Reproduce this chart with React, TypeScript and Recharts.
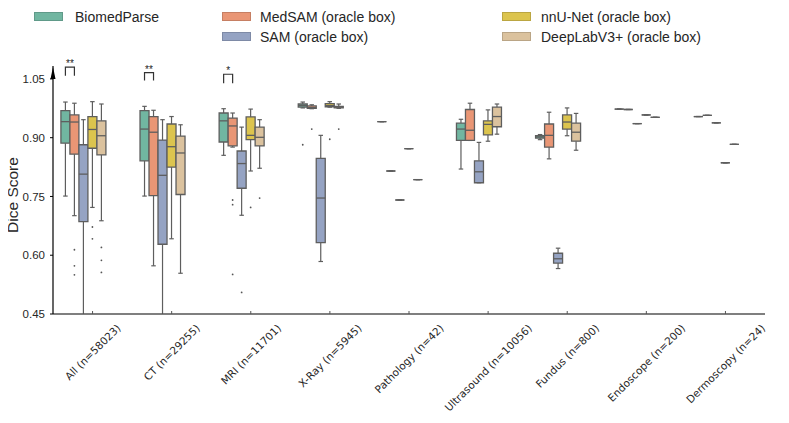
import React from 'react';
import { ComposedChart, Bar, XAxis, YAxis } from 'recharts';

const categories = [
  'All (n=58023)',
  'CT (n=29255)',
  'MRI (n=11701)',
  'X-Ray (n=5945)',
  'Pathology (n=42)',
  'Ultrasound (n=10056)',
  'Fundus (n=800)',
  'Endoscope (n=200)',
  'Dermoscopy (n=24)',
];

const models = [
  'BiomedParse',
  'MedSAM (oracle box)',
  'SAM (oracle box)',
  'nnU-Net (oracle box)',
  'DeepLabV3+ (oracle box)',
];
const colors = ['#71b6a1', '#e99675', '#95a3c3', '#dcc44e', '#dbc29e'];

const yTicks = [0.45, 0.6, 0.75, 0.9, 1.05];
const yDomain: [number, number] = [0.45, 1.083];

// [whiskerLow, q1, median, q3, whiskerHigh] per category
const biomedParseStats = [
  [0.751, 0.886, 0.941, 0.969, 0.991],
  [0.751, 0.841, 0.922, 0.969, 0.98],
  [0.855, 0.889, 0.943, 0.963, 0.974],
  [0.976, 0.978, 0.982, 0.986, 0.991],
  [0.941, 0.941, 0.941, 0.941, 0.941],
  [0.82, 0.893, 0.922, 0.937, 0.947],
  [0.895, 0.899, 0.902, 0.905, 0.908],
  [0.973, 0.973, 0.973, 0.973, 0.973],
  [0.954, 0.954, 0.954, 0.954, 0.954],
];
const medSamStats = [
  [0.701, 0.858, 0.94, 0.958, 0.988],
  [0.573, 0.752, 0.914, 0.954, 0.97],
  [0.876, 0.879, 0.93, 0.95, 0.963],
  [0.974, 0.975, 0.977, 0.981, 0.984],
  [0.815, 0.815, 0.815, 0.815, 0.815],
  [0.893, 0.893, 0.919, 0.972, 0.988],
  [0.846, 0.876, 0.906, 0.935, 0.965],
  [0.972, 0.972, 0.972, 0.972, 0.972],
  [0.957, 0.957, 0.957, 0.957, 0.957],
];
const samStats = [
  [0.3, 0.686, 0.807, 0.882, 0.946],
  [0.2, 0.628, 0.804, 0.894, 0.946],
  [0.702, 0.771, 0.834, 0.866, 0.927],
  [0.584, 0.632, 0.746, 0.847, 0.906],
  [0.741, 0.741, 0.741, 0.741, 0.741],
  [0.785, 0.785, 0.813, 0.841, 0.888],
  [0.566, 0.58, 0.591, 0.605, 0.618],
  [0.936, 0.936, 0.936, 0.936, 0.936],
  [0.938, 0.938, 0.938, 0.938, 0.938],
];
const nnUNetStats = [
  [0.722, 0.873, 0.921, 0.954, 0.992],
  [0.642, 0.825, 0.877, 0.935, 0.954],
  [0.815, 0.895, 0.906, 0.953, 0.973],
  [0.978, 0.979, 0.982, 0.987, 0.992],
  [0.872, 0.872, 0.872, 0.872, 0.872],
  [0.891, 0.907, 0.934, 0.943, 0.971],
  [0.905, 0.922, 0.94, 0.958, 0.976],
  [0.958, 0.958, 0.958, 0.958, 0.958],
  [0.836, 0.836, 0.836, 0.836, 0.836],
];
const deepLabStats = [
  [0.688, 0.856, 0.905, 0.943, 0.986],
  [0.554, 0.755, 0.861, 0.904, 0.933],
  [0.822, 0.879, 0.901, 0.927, 0.946],
  [0.975, 0.976, 0.978, 0.98, 0.986],
  [0.793, 0.793, 0.793, 0.793, 0.793],
  [0.909, 0.928, 0.954, 0.978, 0.986],
  [0.868, 0.891, 0.914, 0.937, 0.962],
  [0.952, 0.952, 0.952, 0.952, 0.952],
  [0.883, 0.883, 0.883, 0.883, 0.883],
];

// outliers per category
const biomedParseFliers = [[], [], [], [0.882], [], [], [], [], []];
const medSamFliers = [[0.614, 0.573, 0.55], [], [0.741, 0.729, 0.551], [0.922], [], [], [], [], []];
const samFliers = [[], [], [0.505], [], [], [], [], [], []];
const nnUNetFliers = [[0.672, 0.642], [], [0.722], [0.896], [], [], [], [], []];
const deepLabFliers = [[0.62, 0.587, 0.556], [], [0.746], [0.922], [], [], [], [], []];

// significance brackets between BiomedParse and MedSAM
const sigCategory = [0, 1, 2];
const sigLabel = ['**', '**', '*'];
const sigLow = [1.058, 1.046, 1.039];
const sigHigh = [1.08, 1.066, 1.062];

const allStats = [biomedParseStats, medSamStats, samStats, nnUNetStats, deepLabStats];
const allFliers = [biomedParseFliers, medSamFliers, samFliers, nnUNetFliers, deepLabFliers];
const SLOTS = 7; // seaborn reserved 7 hue slots per group

const data = categories.map((name, ci) => {
  const row: any = {
    name,
    stats: allStats.map((s) => s[ci]),
    fliers: allFliers.map((f) => f[ci]),
    sig: null,
  };
  const si = sigCategory.indexOf(ci);
  if (si >= 0) row.sig = { label: sigLabel[si], low: sigLow[si], high: sigHigh[si] };
  for (let i = 0; i < SLOTS; i++) row['span' + i] = yDomain;
  return row;
});

const EDGE = '#5e5e5e';
const FONT = '"Liberation Sans", Arial, sans-serif';

const makeShape = (mi: number) => (props: any) => {
  const { x, y, width, height, payload } = props;
  if (mi >= models.length || !payload) return <g />;
  const [dMin, dMax] = yDomain;
  const bottom = y + height;
  const toPx = (v: number) => Math.min(bottom, y + ((dMax - v) / (dMax - dMin)) * height);
  const [lo, q1, med, q3, hi] = payload.stats[mi];
  const fl: number[] = payload.fliers[mi];
  const cx = x + width / 2;
  const capHalf = width / 4;
  const pLo = toPx(lo), pQ1 = toPx(q1), pMed = toPx(med), pQ3 = toPx(q3), pHi = toPx(hi);
  const els: any[] = [];
  els.push(<line key="wh" x1={cx} x2={cx} y1={pQ3} y2={pHi} stroke={EDGE} strokeWidth={1.2} />);
  els.push(<line key="wl" x1={cx} x2={cx} y1={pQ1} y2={pLo} stroke={EDGE} strokeWidth={1.2} />);
  els.push(<line key="ch" x1={cx - capHalf} x2={cx + capHalf} y1={pHi} y2={pHi} stroke={EDGE} strokeWidth={1.2} />);
  if (lo >= dMin)
    els.push(<line key="cl" x1={cx - capHalf} x2={cx + capHalf} y1={pLo} y2={pLo} stroke={EDGE} strokeWidth={1.2} />);
  els.push(
    <path
      key="box"
      d={`M${x},${pQ3} L${x + width},${pQ3} L${x + width},${pQ1} L${x},${pQ1} Z`}
      fill={colors[mi]}
      stroke={EDGE}
      strokeWidth={1.3}
    />
  );
  els.push(<line key="md" x1={x} x2={x + width} y1={pMed} y2={pMed} stroke={EDGE} strokeWidth={1.3} />);
  fl.forEach((v, i) => {
    els.push(<circle key={'f' + i} cx={cx} cy={toPx(v)} r={0.9} fill="#555" />);
  });
  if (mi === 1 && payload.sig) {
    const l = x - width / 2;
    const r = x + width / 2;
    const pl = toPx(payload.sig.low);
    const ph = toPx(payload.sig.high);
    els.push(
      <path key="sig" d={`M${l},${pl} L${l},${ph} L${r},${ph} L${r},${pl}`} fill="none" stroke="#333" strokeWidth={1.2} />
    );
    els.push(
      <text key="sigt" x={(l + r) / 2} y={ph} textAnchor="middle" fontSize={10} fontFamily={FONT} fill="#222">
        {payload.sig.label}
      </text>
    );
  }
  return <g>{els}</g>;
};

let measureCtx: CanvasRenderingContext2D | null = null;
const measure = (t: string, font: string) => {
  if (!measureCtx) measureCtx = document.createElement('canvas').getContext('2d');
  if (!measureCtx) return t.length * 5.4;
  measureCtx.font = font;
  return measureCtx.measureText(t).width;
};

const XTick = (props: any) => {
  const { x, y, payload } = props;
  const label = String(payload.value);
  const fs = 10.5;
  const L = measure(label, `${fs}px "DejaVu Sans"`);
  const d = (L + fs * 0.8) * Math.SQRT1_2;
  const cy = y + 9 + d / 2;
  return (
    <g>
      <line x1={x} x2={x} y1={y} y2={y - 3} stroke="#555" strokeWidth={1} />
      <text
        transform={`translate(${x},${cy}) rotate(-45)`}
        textAnchor="middle"
        dominantBaseline="central"
        fontSize={fs}
        fontFamily='"DejaVu Sans", sans-serif'
        fill="#262626"
      >
        {label}
      </text>
    </g>
  );
};

const YLabel = (props: any) => {
  const vb = props.viewBox || {};
  const { x = 0, y = 0, width = 0, height = 0 } = vb;
  const ax = x + width;
  return (
    <g>
      <path d={`M${ax},${y + 1} L${ax - 2.5},${y + 13} L${ax + 2.5},${y + 13} Z`} fill="#000" />
      <text
        transform={`translate(${x + 12},${y + height / 2 + 5}) rotate(-90)`}
        textAnchor="middle"
        dominantBaseline="central"
        fontSize={15.5}
        fontFamily={FONT}
        fill="#262626"
      >
        Dice Score
      </text>
    </g>
  );
};

const legendPos = [
  { sx: 34, tx: 75, row: 0 },
  { sx: 222, tx: 260, row: 0 },
  { sx: 222, tx: 260, row: 1 },
  { sx: 502, tx: 541, row: 0 },
  { sx: 502, tx: 541, row: 1 },
];

export default function App() {
  return (
    <div style={{ position: 'relative', width: 789, height: 423, margin: '-8px 0 0 -8px', fontFamily: FONT }}>
      <ComposedChart
        width={789}
        height={423}
        data={data}
        margin={{ top: 66, right: 24, bottom: 0, left: 0 }}
        barCategoryGap="10%"
        barGap={0}
      >
        <XAxis
          dataKey="name"
          interval={0}
          tick={<XTick />}
          tickLine={false}
          tickSize={0}
          tickMargin={0}
          height={109}
          axisLine={{ stroke: '#555', strokeWidth: 1.5 }}
        />
        <YAxis
          type="number"
          domain={yDomain}
          ticks={yTicks}
          interval={0}
          width={53}
          tickSize={3}
          tickMargin={5}
          tickFormatter={(v: number) => v.toFixed(2)}
          tick={{ fontSize: 11.5, fill: '#262626', fontFamily: FONT }}
          tickLine={{ stroke: '#000' }}
          axisLine={{ stroke: '#000', strokeWidth: 1.2 }}
          label={{ content: (p: any) => <YLabel {...p} /> }}
        />
        {Array.from({ length: SLOTS }).map((_, i) => (
          <Bar key={i} dataKey={'span' + i} isAnimationActive={false} shape={makeShape(i)} />
        ))}
      </ComposedChart>
      {models.map((m, i) => {
        const p = legendPos[i];
        const top = 12 + p.row * 20;
        return (
          <React.Fragment key={m}>
            <div
              style={{
                position: 'absolute',
                left: p.sx,
                top,
                width: 29,
                height: 9,
                background: colors[i],
                boxSizing: 'border-box',
                border: '1px solid rgba(0,0,0,0.15)',
              }}
            />
            <div
              style={{
                position: 'absolute',
                left: p.tx,
                top: top - 3.5,
                fontSize: 14,
                lineHeight: '16px',
                color: '#262626',
                whiteSpace: 'nowrap',
              }}
            >
              {m}
            </div>
          </React.Fragment>
        );
      })}
    </div>
  );
}
